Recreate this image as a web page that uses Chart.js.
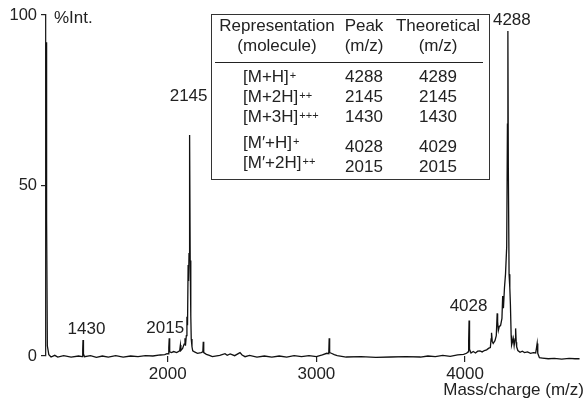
<!DOCTYPE html>
<html>
<head>
<meta charset="utf-8">
<script src="https://cdn.jsdelivr.net/npm/chart.js@4.4.1/dist/chart.umd.min.js"></script>
<style>
  body { margin: 0; background: #fff; }
  #wrap { position: relative; width: 586px; height: 403px; }
  .lbl { position: absolute; font: 17px "Liberation Sans", Arial, sans-serif; line-height: 20px; color: #222; white-space: nowrap; }
  .lbl .chg { font-size: 11px; position: relative; top: -3px; margin-left: 1px; }
  #table { position: absolute; left: 211px; top: 14px; width: 279px; height: 166px; box-sizing: border-box;
           border: 1.3px solid #333; background: #fff; }
  #rule { position: absolute; left: 215px; top: 62px; width: 268px; border-top: 1.5px solid #222; }
</style>
</head>
<body>
<div id="wrap"><canvas id="spec"></canvas><div id="table"></div><div id="rule"></div></div>
<script>
// spectrum (m/z, %Int.)
const mass = [1182, 1185, 1190, 1200, 1215, 1240, 1260, 1300, 1350, 1400, 1424, 1428, 1430, 1433, 1440,
  1480, 1520, 1560, 1600, 1650, 1700, 1750, 1800, 1850, 1900, 1950, 1980, 1995, 2004, 2007, 2010, 2013,
  2025, 2040, 2060, 2080, 2085, 2088, 2100, 2110, 2116, 2119, 2125, 2129, 2133, 2137, 2140, 2143, 2147,
  2151, 2155, 2158, 2163, 2168, 2180, 2200, 2225, 2236, 2239, 2242, 2260, 2280, 2300, 2350, 2385, 2400,
  2420, 2450, 2486, 2500, 2520, 2550, 2600, 2650, 2700, 2750, 2800, 2850, 2900, 2950, 3000, 3040, 3070,
  3083, 3086, 3089, 3100, 3120, 3140, 3200, 3300, 3400, 3500, 3600, 3700, 3750, 3800, 3850, 3900, 3950,
  3990, 4010, 4020, 4024, 4027, 4030, 4040, 4055, 4070, 4085, 4100, 4115, 4130, 4145, 4160, 4170, 4175,
  4178, 4183, 4189, 4201, 4210, 4216, 4219, 4224, 4230, 4239, 4248, 4253, 4258, 4265, 4272, 4280, 4285,
  4288, 4291, 4296, 4301, 4305, 4310, 4313, 4318, 4324, 4330, 4336, 4340, 4344, 4347, 4355, 4370, 4385,
  4400, 4420, 4440, 4460, 4475, 4481, 4485, 4489, 4500, 4520, 4560, 4600, 4650, 4700, 4740, 4770];
const intensity = [92, 40, 3, 0.4, -0.3, 0.2, -0.3, 0.1, -0.3, 0, -0.2, 2, 4.7, 0.6, -0.2,
  0.1, -0.4, 0, -0.3, 0.1, -0.3, 0, -0.2, 0.1, 0, 0.3, 0.4, 0.7, 0.6, 2.5, 5.2, 1.2,
  1.0, 1.3, 1.0, 1.5, 3.2, 1.6, 2.2, 3.5, 5.2, 3.0, 6, 11.5, 9, 26.7, 22, 30, 64.8,
  28, 11.7, 5, 2.7, 1.5, 1.2, 0.8, 1, 1.2, 4.2, 1.0, 0.5, 0.2, -0.2, 0.2, 0.7, 0.2,
  0.6, 0.1, 1.0, 0.3, -0.2, 0.2, -0.3, 0, -0.3, 0, -0.3, 0.1, -0.2, 0.1, -0.2, 0.3, 0.8,
  0.7, 5.2, 1.0, 0.8, 0.4, 0.1, -0.3, -0.2, -0.4, -0.3, -0.2, -0.3, 0, -0.2, 0.2, -0.1, 0.3,
  0.5, 0.8, 1.2, 4, 10.4, 2.0, 0.9, 1.3, 0.9, 1.4, 1.5, 1.2, 1.6, 1.8, 2.3, 2.5, 5,
  6.8, 4.2, 3.7, 4.5, 6, 12.5, 10, 7.5, 8.6, 9.0, 11, 17.6, 14, 20, 24, 32, 68,
  95.3, 55, 24, 20, 15, 6, 3.2, 4, 5.2, 3, 5, 8.1, 4, 2.7, 1.6, 1.1, 1.4,
  1.0, 1.2, 0.8, 1.0, 0.9, 2.5, 3.7, 0.8, -0.5, -0.6, -0.8, -0.7, -0.9, -0.7, -0.8, -0.8];

// labelled peaks
const peakNames = ['1430', '2015', '2145', '4028', '4288'];
const peakMass = [1430, 2010, 2147, 4027, 4288];
const peakInt = [4.7, 5.2, 64.8, 10.4, 95.3];

const xTicks = [2000, 3000, 4000];
const yTicks = [0, 50, 100];

// inset table
const tableHead1 = ['Representation', 'Peak', 'Theoretical'];
const tableHead2 = ['(molecule)', '(m/z)', '(m/z)'];
const species = ['[M+H]', '[M+2H]', '[M+3H]', '[M\u2032+H]', '[M\u2032+2H]'];
const charges = ['+', '++', '+++', '+', '++'];
const peakFound = ['4288', '2145', '1430', '4028', '2015'];
const peakTheory = ['4289', '2145', '1430', '4029', '2015'];

const FONT = '"Liberation Sans", Arial, sans-serif';
const INK = '#222';

const points = mass.map((m, i) => ({ x: m, y: intensity[i] }));

const chart = new Chart(document.getElementById('spec'), {
  type: 'line',
  data: {
    datasets: [{
      data: points,
      borderColor: '#111',
      borderWidth: 1.3,
      pointRadius: 0,
      tension: 0,
      clip: false
    }]
  },
  options: {
    responsive: true,
    maintainAspectRatio: false,
    animation: false,
    layout: { padding: { top: 15, right: 2, left: 0, bottom: 0 } },
    plugins: { legend: { display: false }, tooltip: { enabled: false } },
    scales: {
      x: {
        type: 'linear',
        min: 1181,
        max: 4800,
        afterBuildTicks: (scale) => { scale.ticks = xTicks.map(v => ({ value: v })); },
        afterFit: (scale) => { scale.height = 47; },
        ticks: {
          color: INK, font: { family: FONT, size: 17 }, padding: 2, maxRotation: 0,
          autoSkip: false, callback: (v) => String(v)
        },
        grid: { drawOnChartArea: false, tickLength: 6, color: INK, lineWidth: 1.2 },
        border: { display: false },
        title: {
          display: true,
          text: 'Mass/charge (m/z)',
          align: 'end',
          color: INK,
          font: { family: FONT, size: 17 },
          padding: { top: 0, bottom: 2 }
        }
      },
      y: {
        min: 0,
        max: 100,
        afterBuildTicks: (scale) => { scale.ticks = yTicks.map(v => ({ value: v })); },
        afterFit: (scale) => { scale.width = 46; },
        ticks: { color: INK, font: { family: FONT, size: 16.5 }, padding: 4, autoSkip: false, callback: (v) => String(v) },
        grid: { drawOnChartArea: false, tickLength: 5, color: INK, lineWidth: 1.2 },
        border: { display: true, color: INK, width: 1.3 }
      }
    }
  }
});

// the cached x label items can go stale after the first resize, rebuild them
const xs = chart.scales.x, ys = chart.scales.y;
xs.getLabelItems(chart.chartArea);
chart.draw();

// text overlays: y is the middle of the capital letters
const wrap = document.getElementById('wrap');
function place(html, x, y, center) {
  const d = document.createElement('div');
  d.className = 'lbl';
  d.innerHTML = html;
  d.style.left = x + 'px';
  d.style.top = (y - 10) + 'px';
  if (center) d.style.transform = 'translateX(-50%)';
  wrap.appendChild(d);
}

place('%Int.', 54, 18, false);

// peak labels, offset in px from the peak top
const off = [[3.5, 11], [-4, 10], [-1, 39], [-0.5, 15], [4, 11]];
peakNames.forEach((t, i) => {
  place(t, xs.getPixelForValue(peakMass[i]) + off[i][0], ys.getPixelForValue(peakInt[i]) - off[i][1], true);
});

// table
const colX = [277, 364, 438];
tableHead1.forEach((t, i) => place(t, colX[i], 26, true));
tableHead2.forEach((t, i) => place(t, colX[i], 46, true));
const rowY = [77, 97, 117, 143, 163];
const numY = [77, 97, 117, 146.5, 166.5];
species.forEach((s, i) => {
  place(s + '<span class="chg">' + charges[i] + '</span>', 243, rowY[i], false);
  place(peakFound[i], colX[1], numY[i], true);
  place(peakTheory[i], colX[2], numY[i], true);
});
</script>
</body>
</html>
